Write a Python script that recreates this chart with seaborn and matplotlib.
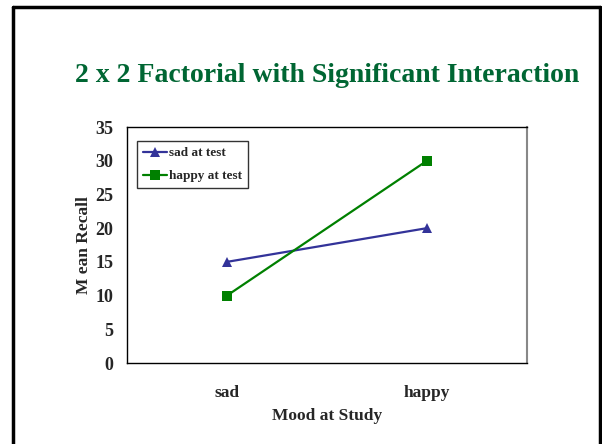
import pandas as pd
import seaborn as sns
import matplotlib.pyplot as plt
from matplotlib.lines import Line2D

# chart values
mood_study = ["sad", "happy"]
sad_at_test = [15, 20]
happy_at_test = [10, 30]
y_ticks = [0, 5, 10, 15, 20, 25, 30, 35]

data = pd.DataFrame({
    "Mood at Study": mood_study * 2,
    "Mean Recall": sad_at_test + happy_at_test,
    "test": ["sad at test"] * 2 + ["happy at test"] * 2,
})

sns.set_style("white")
plt.rcParams["font.family"] = ["Liberation Serif", "DejaVu Serif"]

fig = plt.figure(figsize=(6.02, 4.44), dpi=100)
W, H = 602, 444
ax = fig.add_axes([127 / W, 1 - 363 / H, 400 / W, 236 / H])

g = sns.lineplot(data=data, x="Mood at Study", y="Mean Recall", hue="test",
                 style="test", markers=["^", "s"], dashes=False,
                 palette=["#333399", "#008000"], markersize=6.5, linewidth=1.6,
                 markeredgewidth=0, ax=ax)

ax.set_xlim(-0.5, 1.5)
ax.set_ylim(0, 35)
ax.set_yticks(y_ticks)
ax.set_yticklabels([str(v) for v in y_ticks], fontweight="bold", fontsize=13)
ax.set_xticks([0, 1])
ax.set_xticklabels(mood_study, fontweight="bold", fontsize=12.5)
ax.tick_params(axis="x", length=0, pad=16)
ax.tick_params(axis="y", length=0, pad=10)
ax.set_xlabel("Mood at Study", fontweight="bold", fontsize=12.5, labelpad=5)
ax.set_ylabel("M ean Recall", fontweight="bold", fontsize=12.5, labelpad=2)

for side in ["left", "bottom", "top"]:
    ax.spines[side].set_color("black")
    ax.spines[side].set_linewidth(1)
ax.spines["right"].set_color("#888888")
ax.spines["right"].set_linewidth(1.5)

leg = ax.legend(loc="upper left", bbox_to_anchor=(0.025, 0.94), frameon=True,
                fancybox=False, edgecolor="black",
                prop={"weight": "bold", "size": 9.5}, handlelength=1.8,
                borderpad=0.45, labelspacing=0.8, handletextpad=0.15,
                borderaxespad=0)
leg.get_frame().set_linewidth(1)

fig.text(327 / W, 1 - 75 / H, "2 x 2 Factorial with Significant Interaction",
         color="#006633", fontsize=20, fontweight="bold", ha="center", va="center")

# slide frame
fig.add_artist(Line2D([13 / W, 13 / W], [0, 1 - 7 / H], color="black", linewidth=2.5))
fig.add_artist(Line2D([13 / W, 600 / W], [1 - 7 / H, 1 - 7 / H], color="black", linewidth=2.5))
fig.add_artist(Line2D([600 / W, 600 / W], [0, 1 - 7 / H], color="black", linewidth=2.5))

fig.savefig("out.png", dpi=100)
